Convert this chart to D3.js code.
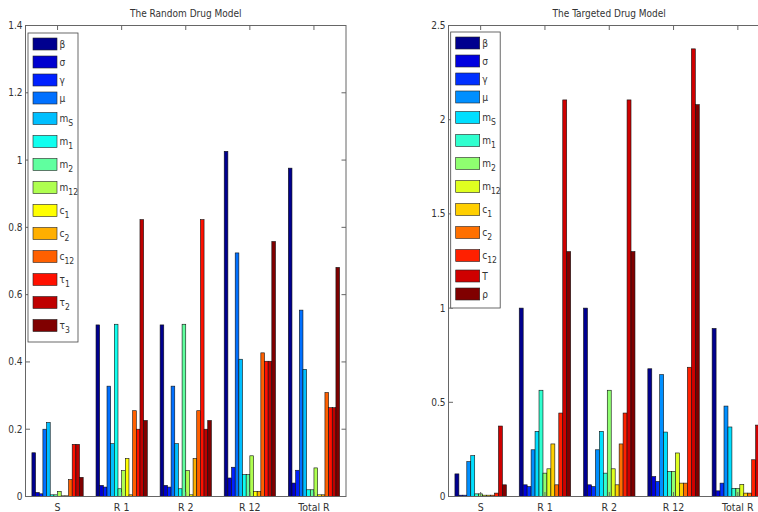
<!DOCTYPE html>
<html>
<head>
<meta charset="utf-8">
<script src="https://cdn.jsdelivr.net/npm/d3@7"></script>
<style>
  html, body { margin: 0; padding: 0; background: #fff; }
  svg { display: block; }
  text { font-family: "Liberation Sans Narrow", "DejaVu Sans Condensed", "Liberation Sans", sans-serif; fill: #333; }
</style>
</head>
<body>
<svg id="chart" width="758" height="512"></svg>
<script>
// Groups along the x axis
const categories = ["S", "R 1", "R 2", "R 12", "Total R"];

// Random drug model: parameter names (base, subscript) and sensitivities per group
const randomLabels = [["β",""],["σ",""],["γ",""],["μ",""],["m","S"],["m","1"],["m","2"],["m","12"],["c","1"],["c","2"],["c","12"],["τ","1"],["τ","2"],["τ","3"]];
const randomS     = [0.13, 0.012, 0.008, 0.2, 0.22, 0.005, 0.005, 0.015, 0.002, 0.002, 0.05, 0.155, 0.155, 0.057];
const randomR1    = [0.51, 0.033, 0.028, 0.328, 0.157, 0.512, 0.023, 0.077, 0.113, 0.005, 0.255, 0.2, 0.823, 0.226];
const randomR2    = [0.51, 0.033, 0.028, 0.328, 0.157, 0.023, 0.512, 0.077, 0.005, 0.113, 0.255, 0.823, 0.2, 0.226];
const randomR12   = [1.026, 0.055, 0.087, 0.724, 0.408, 0.065, 0.065, 0.121, 0.015, 0.015, 0.427, 0.402, 0.402, 0.758];
const randomTotal = [0.976, 0.04, 0.078, 0.554, 0.378, 0.02, 0.02, 0.085, 0.005, 0.005, 0.309, 0.264, 0.264, 0.681];
const randomTicks = [0, 0.2, 0.4, 0.6, 0.8, 1, 1.2, 1.4];

// Targeted drug model
const targetLabels = [["β",""],["σ",""],["γ",""],["μ",""],["m","S"],["m","1"],["m","2"],["m","12"],["c","1"],["c","2"],["c","12"],["T",""],["ρ",""]];
const targetS     = [0.12, 0.007, 0.007, 0.185, 0.217, 0.014, 0.014, 0.007, 0.007, 0.007, 0.018, 0.374, 0.062];
const targetR1    = [1.0, 0.062, 0.053, 0.248, 0.346, 0.564, 0.124, 0.147, 0.279, 0.062, 0.443, 2.105, 1.3];
const targetR2    = [1.0, 0.062, 0.053, 0.248, 0.346, 0.124, 0.564, 0.147, 0.062, 0.279, 0.443, 2.105, 1.3];
const targetR12   = [0.678, 0.106, 0.08, 0.647, 0.342, 0.133, 0.133, 0.231, 0.071, 0.071, 0.686, 2.376, 2.08];
const targetTotal = [0.892, 0.03, 0.071, 0.48, 0.369, 0.043, 0.043, 0.064, 0.018, 0.018, 0.195, 0.379, 0.3];
const targetTicks = [0, 0.5, 1, 1.5, 2, 2.5];

// 64-entry jet colormap, indexed like a scaled colour lookup
function jet64(k) {
  const u = j => (j <= 16 ? j / 16 : j <= 31 ? 1 : (48 - j) / 16);
  const g = (k >= 9 && k <= 55) ? u(k - 8) : 0;
  const r = (k >= 25) ? u(k - 24) : 0;
  const b = (k <= 39) ? u(k + 8) : 0;
  return d3.rgb(r * 255, g * 255, b * 255).formatHex();
}
function seriesColor(i, n) {
  const k = Math.min(64, Math.floor(i / (n - 1) * 64) + 1);
  return jet64(k);
}

const svg = d3.select("#chart");

function drawPanel(opt) {
  const { left, right, top, bottom, title, yMax, ticks, labels, groups } = opt;
  const n = labels.length;
  const g = svg.append("g");

  const x = d3.scaleBand().domain(categories).range([left, right]).paddingInner(0.2).paddingOuter(0.1);
  const xs = d3.scaleBand().domain(d3.range(n)).range([0, x.bandwidth()]).padding(0);
  const y = d3.scaleLinear().domain([0, yMax]).range([bottom, top]);

  // bars
  categories.forEach((cat, ci) => {
    const vals = groups[ci];
    g.append("g").selectAll("rect").data(vals).join("rect")
      .attr("x", (d, i) => x(cat) + xs(i))
      .attr("width", xs.bandwidth())
      .attr("y", d => y(d))
      .attr("height", d => y(0) - y(d))
      .attr("fill", (d, i) => seriesColor(i, n))
      .attr("stroke", "#111")
      .attr("stroke-width", 0.6);
  });

  // frame and inward ticks
  const axisColor = "#666";
  g.append("rect").attr("x", left).attr("y", top).attr("width", right - left).attr("height", bottom - top)
    .attr("fill", "none").attr("stroke", axisColor).attr("stroke-width", 1);
  const tl = 4.5;
  ticks.forEach(t => {
    g.append("line").attr("x1", left).attr("x2", left + tl).attr("y1", y(t)).attr("y2", y(t)).attr("stroke", axisColor);
    g.append("line").attr("x1", right).attr("x2", right - tl).attr("y1", y(t)).attr("y2", y(t)).attr("stroke", axisColor);
    g.append("text").attr("x", left - 3).attr("y", y(t)).attr("dy", "0.35em")
      .attr("text-anchor", "end").attr("font-size", 10).text(t);
  });
  categories.forEach(cat => {
    const cx = x(cat) + x.bandwidth() / 2;
    g.append("line").attr("x1", cx).attr("x2", cx).attr("y1", bottom).attr("y2", bottom - tl).attr("stroke", axisColor);
    g.append("line").attr("x1", cx).attr("x2", cx).attr("y1", top).attr("y2", top + tl).attr("stroke", axisColor);
    g.append("text").attr("x", cx).attr("y", bottom + 14).attr("text-anchor", "middle")
      .attr("font-size", 10.5).text(cat);
  });

  // title
  g.append("text").attr("x", (left + right) / 2).attr("y", 17).attr("text-anchor", "middle")
    .attr("font-size", 10).text(title);

  // legend
  const lx = opt.legendX, ly = opt.legendY;
  const half = lab => (lab[1] ? 11.5 : 9);
  const centers = [];
  let c = ly + 11;
  labels.forEach((lab, i) => {
    if (i > 0) c += half(labels[i - 1]) + half(lab);
    centers.push(c);
  });
  const boxH = centers[n - 1] + half(labels[n - 1]) + 5 - ly;
  const leg = g.append("g");
  leg.append("rect").attr("x", lx).attr("y", ly).attr("width", opt.legendW).attr("height", boxH)
    .attr("fill", "#fff").attr("stroke", "#444").attr("stroke-width", 0.8);
  labels.forEach((lab, i) => {
    leg.append("rect").attr("x", lx + 5).attr("y", centers[i] - 6).attr("width", 24).attr("height", 12)
      .attr("fill", seriesColor(i, n)).attr("stroke", "#222").attr("stroke-width", 0.6);
    const t = leg.append("text").attr("x", lx + 31.5).attr("y", centers[i] + 3.5).attr("font-size", 10);
    t.append("tspan").text(lab[0]);
    if (lab[1]) t.append("tspan").attr("dy", 4).attr("font-size", 8.5).text(lab[1]);
  });
}

drawPanel({
  left: 25.5, right: 346, top: 25.5, bottom: 496.5,
  title: "The Random Drug Model", yMax: 1.4, ticks: randomTicks,
  labels: randomLabels,
  groups: [randomS, randomR1, randomR2, randomR12, randomTotal],
  legendX: 28, legendY: 33, legendW: 50
});

drawPanel({
  left: 448.5, right: 770, top: 25.5, bottom: 496.5,
  title: "The Targeted Drug Model", yMax: 2.5, ticks: targetTicks,
  labels: targetLabels,
  groups: [targetS, targetR1, targetR2, targetR12, targetTotal],
  legendX: 450.7, legendY: 32, legendW: 49.5
});
</script>
</body>
</html>
